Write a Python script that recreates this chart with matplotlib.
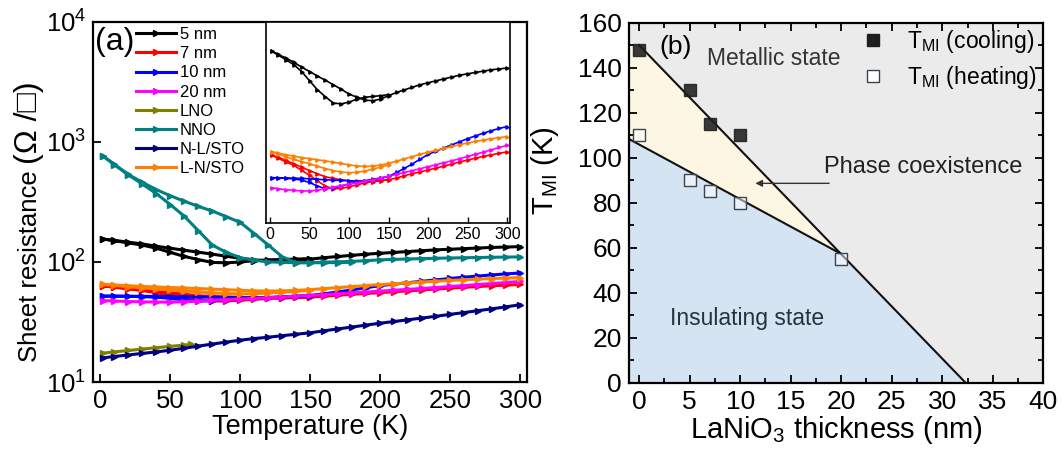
import matplotlib
matplotlib.use('Agg')
import matplotlib.pyplot as plt
from matplotlib.ticker import MultipleLocator, NullLocator, FixedLocator
from matplotlib.lines import Line2D

plt.rcParams['font.family'] = ['Liberation Sans', 'DejaVu Sans']
plt.rcParams['mathtext.fontset'] = 'custom'
plt.rcParams['mathtext.rm'] = 'Liberation Sans'
plt.rcParams['mathtext.it'] = 'Liberation Sans:italic'
plt.rcParams['mathtext.bf'] = 'Liberation Sans:bold'

# ---------------- (a) sheet resistance vs temperature ----------------
T_full = [2, 10, 20, 30, 40, 50, 60, 70, 80, 90, 100, 110, 120, 130, 140, 150,
          160, 170, 180, 190, 200, 210, 220, 230, 240, 250, 260, 270, 280, 290, 300]
T_half = [2, 10, 20, 30, 40, 50, 60, 70, 80, 90, 100, 110, 120, 130, 140, 150]
T_nno_back = [2, 10, 20, 30, 40, 50, 60, 70, 80, 90, 100, 110, 120, 130, 140,
              150, 160, 170, 180]
T_lno = [2, 10, 20, 30, 40, 50, 60, 65]

R_5nm_up = [155, 151, 146, 141, 135, 130, 125, 120.5, 116, 111.5, 107, 104, 101.5,
            101, 102.5, 105.5, 108.5, 111, 113.5, 116, 118, 120, 122, 124, 126,
            127.5, 129, 130.5, 132, 133, 134]
R_5nm_down = [155, 150, 144, 138, 130, 120, 111, 104.5, 99, 98.3, 99.8, 102.5, 104,
              104.8, 105.5, 106.5]

R_7nm_up = [63.1, 61.5, 59.5, 57.8, 55.3, 53, 50.5, 48.3, 47.2, 47.3, 48, 48.8, 49.6,
            50.2, 50.6, 51, 51.8, 52.8, 53.8, 54.6, 55.5, 56.4, 57.4, 58.4, 59.5,
            60.5, 61.5, 62.4, 63.3, 64.1, 64.9]
R_7nm_down = [63.1, 62, 60.3, 58.6, 56.8, 55.2, 53.7, 52.3, 51.6, 51, 50.6, 50.2,
              50.1, 50.2, 50.6, 51]

R_10nm_up = [51.9, 51.9, 51.8, 51.7, 51.6, 51.4, 51.2, 51.0, 50.8, 50.7, 50.5, 50.4,
             50.4, 50.8, 51.6, 52.5, 54.3, 56.3, 58.5, 61, 63.5, 65.3, 67.2, 69,
             70.9, 72.8, 74.6, 76.3, 78, 79.5, 80.8]
R_10nm_down = [51.9, 51.8, 51.6, 51.4, 50.8, 49.8, 48.3, 47.2, 47.5, 48.3, 49.2, 50,
               50.6, 51.2, 51.8, 52.5]

R_20nm = [47.6, 47.2, 46.8, 46.5, 46.3, 46.3, 46.6, 47.1, 47.8, 48.5, 49.1, 49.7,
          50.3, 51, 51.8, 52.6, 53.4, 54.3, 55.2, 56.1, 57.1, 58.1, 59.1, 60.1,
          61.2, 62.4, 63.6, 64.8, 66.1, 67.4, 68.7]

R_lno = [17.4, 17.8, 18.3, 18.8, 19.3, 19.8, 20.3, 20.6]

R_nno_up = [759, 650, 535, 460, 400, 355, 320, 290, 265, 238, 213, 172, 138, 110,
            98.5, 98.8, 99.5, 100.2, 101, 102.5, 104, 105, 105.8, 106.5, 107.2,
            107.8, 108.3, 108.8, 109.3, 109.7, 110]
R_nno_down = [759, 645, 530, 445, 370, 300, 240, 182, 138, 120, 108.5, 103, 100.2,
              99, 98.5, 98.3, 98.5, 98.8, 99.2]

R_nl_sto = [15.9, 16.3, 16.8, 17.3, 17.8, 18.4, 19.1, 19.9, 20.7, 21.5, 22.3, 23,
            23.6, 24.3, 25, 25.7, 26.7, 27.7, 28.7, 29.8, 30.9, 31.9, 33, 34.1, 35.3,
            36.6, 37.9, 39.3, 40.7, 42.3, 44]

R_ln_sto_up = [65, 64.2, 63.3, 62.5, 61.8, 61.2, 60.6, 60, 59.3, 58.7, 58, 57.4,
               57.2, 57.4, 57.9, 58.8, 59.9, 61.1, 62.3, 63.6, 64.7, 65.8, 66.9, 68,
               69.1, 70.1, 71, 71.9, 72.7, 73.4, 74.1]
R_ln_sto_down = [65, 63.8, 62.2, 60.8, 59.6, 58.6, 57.3, 56.2, 55.2, 54.5, 54.2,
                 54.4, 55, 55.9, 56.9, 58]

labels_a = ['5 nm', '7 nm', '10 nm', '20 nm', 'LNO', 'NNO', 'N-L/STO', 'L-N/STO']
colors_a = ['#000000', '#ff0000', '#0000ff', '#ff00ff', '#808000', '#008080',
            '#000080', '#ff8000']
in_inset = [True, True, True, True, False, False, False, True]

# ---------------- (b) phase diagram ----------------
thick_cool = [0, 5, 7, 10]
tmi_cool = [148, 130, 115, 110]
thick_heat = [0, 5, 7, 10, 20]
tmi_heat = [110, 90, 85, 80, 55]
upper_x = [0, 32.3]
upper_y = [150, 0]
lower_x = [-1, 20]
lower_y = [108.3, 57.2]

W, H = 1062, 450
fig = plt.figure(figsize=(W / 100, H / 100), dpi=100)
ax = fig.add_axes([0.0876, 0.1511, 0.4087, 0.8007])
ax_in = fig.add_axes([0.2505, 0.5038, 0.2298, 0.448])
axb = fig.add_axes([0.5923, 0.1496, 0.3901, 0.8000])

groups = [
    [(T_full, R_5nm_up), (T_half, R_5nm_down)],
    [(T_full, R_7nm_up), (T_half, R_7nm_down)],
    [(T_full, R_10nm_up), (T_half, R_10nm_down)],
    [(T_full, R_20nm)],
    [(T_lno, R_lno)],
    [(T_full, R_nno_up), (T_nno_back, R_nno_down)],
    [(T_full, R_nl_sto)],
    [(T_full, R_ln_sto_up), (T_half, R_ln_sto_down)],
]

handles = []
for lab, col, branches in zip(labels_a, colors_a, groups):
    for tt, rr in branches:
        ax.plot(tt, rr, color=col, lw=2.2, marker='>', ms=4, mec=col, mfc=col)
    handles.append(Line2D([], [], color=col, lw=2.2, marker='>', ms=4,
                          mec=col, mfc=col, label=lab))

ax.set_yscale('log')
ax.set_ylim(10, 1e4)
ax.set_xlim(-5.2, 304.8)
ax.xaxis.set_major_locator(MultipleLocator(50))
ax.yaxis.set_major_locator(FixedLocator([10, 100, 1000, 10000]))
ax.yaxis.set_minor_locator(NullLocator())
ax.tick_params(direction='in', length=6, width=1.3, labelsize=18.5, pad=5)
for s in ax.spines.values():
    s.set_linewidth(1.6)
ax.set_xlabel('Temperature (K)', fontsize=19.5, labelpad=1)
ax.text(0.05, 0.944, '(a)', transform=ax.transAxes, fontsize=23,
        ha='center', va='center')
ax.legend(handles=handles, loc='upper left', bbox_to_anchor=(0.1, 0.985),
          frameon=False, fontsize=12, handlelength=2.4, handletextpad=0.2,
          labelspacing=0.25, borderpad=0, borderaxespad=0)

# inset: film curves on a narrower resistance range
for col, branches, show in zip(colors_a, groups, in_inset):
    if not show:
        continue
    for tt, rr in branches:
        ax_in.plot(tt, rr, color=col, lw=1.2, marker='>', ms=2.4, mec=col, mfc=col)
ax_in.set_yscale('log')
ax_in.set_ylim(35, 200)
ax_in.set_xlim(-5, 303.5)
ax_in.xaxis.set_major_locator(MultipleLocator(50))
ax_in.yaxis.set_major_locator(NullLocator())
ax_in.yaxis.set_minor_locator(NullLocator())
ax_in.tick_params(axis='x', direction='in', length=4, width=1.0, labelsize=11.5, pad=3)
ax_in.tick_params(axis='y', left=False, labelleft=False)
for s in ax_in.spines.values():
    s.set_linewidth(1.2)

# ---------------- (b) ----------------
c_gray = '#ebebeb'
c_yel = '#fcf6e2'
c_blue = '#d5e4f2'
axb.set_facecolor(c_gray)
axb.fill([lower_x[0], lower_x[0], upper_x[0], lower_x[1]],
         [lower_y[0], upper_y[0], upper_y[0], lower_y[1]],
         color=c_yel, lw=0, zorder=0.5)
axb.fill([lower_x[0], lower_x[0], lower_x[1], upper_x[1]],
         [0, lower_y[0], lower_y[1], upper_y[1]],
         color=c_blue, lw=0, zorder=0.5)
axb.plot(upper_x, upper_y, color='#111111', lw=1.5, zorder=2)
axb.plot(lower_x, lower_y, color='#111111', lw=1.5, zorder=2)

axb.plot(thick_cool, tmi_cool, ls='none', marker='s', ms=9, mfc='#1e1e1e',
         mec='#1e1e1e', alpha=0.88, zorder=3)
axb.plot(thick_heat, tmi_heat, ls='none', marker='s', ms=9,
         mfc=(1, 1, 1, 0.5), mec='#3a4450', mew=1.0, zorder=3)

axb.text(13.35, 144, 'Metallic state', fontsize=16.5, color='#333333',
         ha='center', va='center', zorder=4)
axb.text(28.1, 96, 'Phase coexistence', fontsize=17, color='#222222',
         ha='center', va='center', zorder=4)
axb.text(10.7, 28.5, 'Insulating state', fontsize=16.5, color='#27323d',
         ha='center', va='center', zorder=4)
axb.text(3.6, 149.3, '(b)', fontsize=19, ha='center', va='center', zorder=4)
axb.annotate('', xy=(11.5, 88.6), xytext=(18.8, 88.6), zorder=4,
             arrowprops=dict(arrowstyle='-|>', color='#333333', lw=1.0,
                             mutation_scale=10, shrinkA=0, shrinkB=0))

leg_h = [Line2D([], [], ls='none', marker='s', ms=8, mfc='#1e1e1e', mec='#1e1e1e'),
         Line2D([], [], ls='none', marker='s', ms=8, mfc='white', mec='#3a4450', mew=1.0)]
axb.legend(leg_h, [r'T$_{\mathrm{MI}}$ (cooling)', r'T$_{\mathrm{MI}}$ (heating)'],
           loc='upper right', bbox_to_anchor=(0.985, 0.985), frameon=False,
           fontsize=16.5, handlelength=1.0, handletextpad=1.0, labelspacing=0.4,
           borderpad=0, borderaxespad=0)

axb.set_xlim(-1, 40)
axb.set_ylim(0, 160)
axb.xaxis.set_major_locator(MultipleLocator(5))
axb.xaxis.set_minor_locator(MultipleLocator(2.5))
axb.yaxis.set_major_locator(MultipleLocator(20))
axb.yaxis.set_minor_locator(MultipleLocator(10))
axb.tick_params(which='both', direction='in', top=True, right=True, width=1.3)
axb.tick_params(which='major', length=6, labelsize=19, pad=5)
axb.tick_params(which='minor', length=3.5)
for s in axb.spines.values():
    s.set_linewidth(1.6)
    s.set_zorder(5)
axb.set_xlabel(r'LaNiO$_3$ thickness (nm)', fontsize=21, labelpad=0)
axb.set_ylabel(r'T$_{\mathrm{MI}}$ (K)', fontsize=21, labelpad=12, y=0.59)

# y label of (a): plain words plus an enlarged unit group stacked above them
yl1 = fig.text(30 / W, 1 - 362 / H, 'Sheet resistance', rotation=90,
               fontsize=18.5, ha='center', va='bottom')
fig.canvas.draw()
bb = yl1.get_window_extent()
fig.text(29 / W, (bb.y1 + 6) / H, '(Ω /□)', rotation=90, fontsize=23,
         ha='center', va='bottom')

fig.savefig('out.png', dpi=100)
